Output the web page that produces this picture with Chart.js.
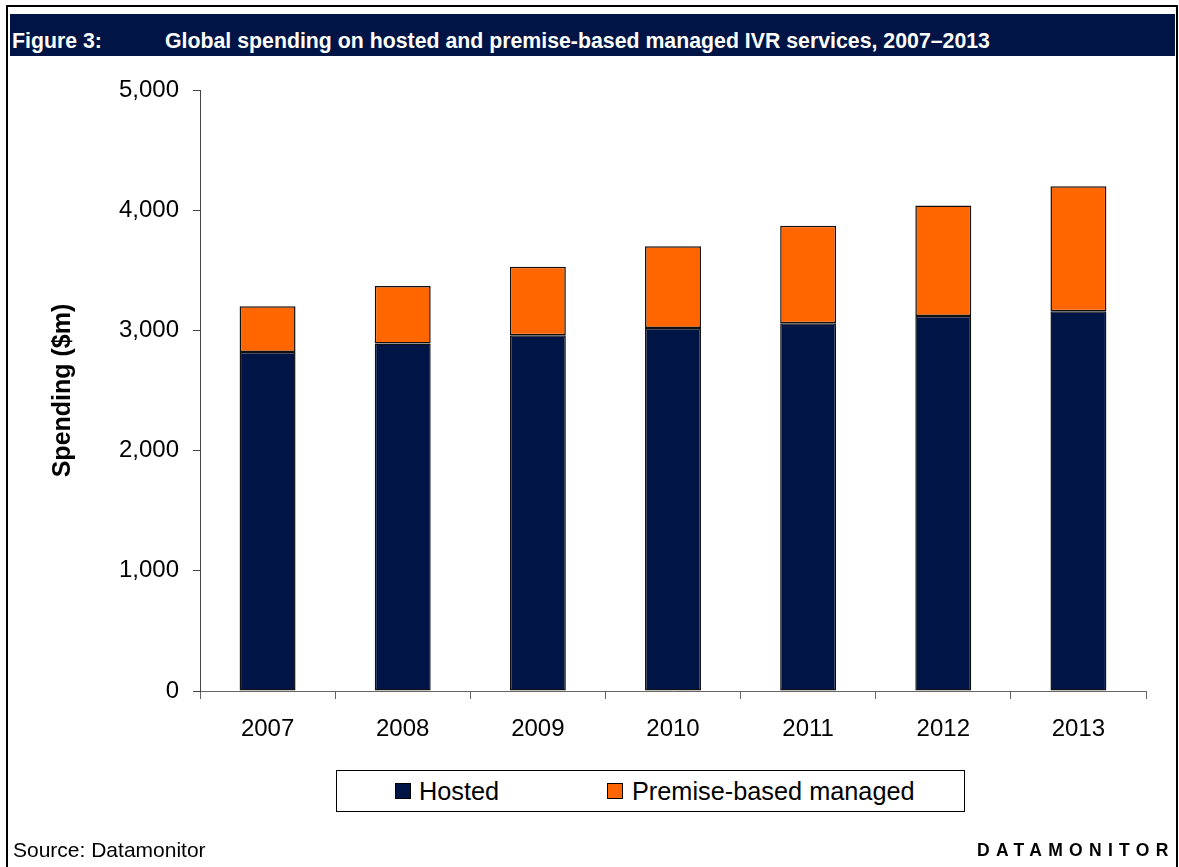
<!DOCTYPE html>
<html>
<head>
<meta charset="utf-8">
<script src="https://cdn.jsdelivr.net/npm/chart.js@4.4.1/dist/chart.umd.min.js"></script>
<style>
  html, body { margin: 0; padding: 0; background: #fff; }
  body { width: 1179px; height: 867px; position: relative; overflow: hidden; font-family: "Liberation Sans", Arial, sans-serif; }
  #frame { position: absolute; left: 6px; top: 5px; width: 1172px; height: 1000px; box-sizing: border-box; border: 2px solid #000; }
  #band { position: absolute; left: 10px; top: 14px; width: 1165px; height: 42px; background: #001545; }
  .hdr { position: absolute; top: 31px; font-weight: bold; font-size: 21.3px; line-height: 21px; color: #fff; white-space: nowrap; }
  #chartWrap { position: absolute; left: 0; top: 0; width: 1179px; height: 867px; }
  #legendBox { position: absolute; left: 336px; top: 770px; width: 629px; height: 42px; box-sizing: border-box; border: 1px solid #000; background: #fff; }
  .sw { position: absolute; top: 783px; width: 16px; height: 16px; box-sizing: border-box; border: 1px solid #000; }
  .lt { position: absolute; top: 779px; font-size: 25.3px; line-height: 25px; color: #000; white-space: nowrap; }
  #src { position: absolute; left: 13px; top: 839px; font-size: 21px; line-height: 21px; color: #000; white-space: nowrap; }
  #brand { position: absolute; left: 977px; top: 842px; font-size: 17.5px; line-height: 17px; font-weight: bold; letter-spacing: 6.3px; color: #000; white-space: nowrap; }
</style>
</head>
<body>
<div id="frame"></div>
<div id="band"></div>
<div class="hdr" style="left:12px">Figure 3:</div>
<div class="hdr" style="left:165px">Global spending on hosted and premise-based managed IVR services, 2007–2013</div>
<div id="chartWrap"><canvas id="c" width="1179" height="867"></canvas></div>
<div id="legendBox"></div>
<div id="legendItems"></div>
<div id="src">Source: Datamonitor</div>
<div id="brand">DATAMONITOR</div>
<script>
const years = ['2007', '2008', '2009', '2010', '2011', '2012', '2013'];
const hosted = [2820, 2890, 2960, 3020, 3060, 3120, 3160];
const premiseManaged = [380, 480, 570, 680, 810, 920, 1040];
const seriesNames = ['Hosted', 'Premise-based managed'];
const seriesColors = ['#001545', '#FF6600'];
const yTickValues = [0, 1000, 2000, 3000, 4000, 5000];
const yTickLabels = ['0', '1,000', '2,000', '3,000', '4,000', '5,000'];
const yAxisTitle = 'Spending ($m)';

const FONT = '"Liberation Sans", Arial, sans-serif';

// HTML legend built from series names/colours
const legendItems = document.getElementById('legendItems');
const legendPos = [{sw: 395, tx: 419}, {sw: 607, tx: 632}];
seriesNames.forEach((name, i) => {
  const sw = document.createElement('div');
  sw.className = 'sw';
  sw.style.left = legendPos[i].sw + 'px';
  sw.style.background = seriesColors[i];
  legendItems.appendChild(sw);
  const t = document.createElement('div');
  t.className = 'lt';
  t.style.left = legendPos[i].tx + 'px';
  t.textContent = name;
  legendItems.appendChild(t);
});

new Chart(document.getElementById('c'), {
  type: 'bar',
  data: {
    labels: years,
    datasets: [
      { label: seriesNames[0], data: hosted, backgroundColor: seriesColors[0], borderColor: '#111', borderWidth: 1.5, borderSkipped: false, barPercentage: 0.414, categoryPercentage: 1 },
      { label: seriesNames[1], data: premiseManaged, backgroundColor: seriesColors[1], borderColor: '#111', borderWidth: 1.5, borderSkipped: false, barPercentage: 0.414, categoryPercentage: 1 }
    ]
  },
  options: {
    responsive: false,
    animation: false,
    devicePixelRatio: 1,
    layout: { padding: { left: 0, right: 33, top: 90, bottom: 116 } },
    plugins: { legend: { display: false }, tooltip: { enabled: false } },
    scales: {
      x: {
        stacked: true,
        grid: { display: true, drawOnChartArea: false, drawTicks: true, tickLength: 8, offset: true, color: '#666', lineWidth: 1 },
        border: { display: true, color: '#666', width: 1 },
        ticks: { color: '#000', font: { family: FONT, size: 24 }, padding: 16, maxRotation: 0 },
        afterFit: (s) => { s.height = 60; }
      },
      y: {
        stacked: true,
        min: 0,
        max: 5000,
        grid: { display: true, drawOnChartArea: false, drawTicks: true, tickLength: 7, color: '#444', lineWidth: 1 },
        border: { display: true, color: '#444', width: 1 },
        ticks: {
          stepSize: 1000,
          color: '#000',
          padding: 14,
          font: { family: FONT, size: 24 },
          callback: (v) => { const i = yTickValues.indexOf(v); return i >= 0 ? yTickLabels[i] : ''; }
        },
        title: { display: true, text: yAxisTitle, color: '#000', font: { family: FONT, size: 25, weight: 'bold' }, padding: { top: 48, bottom: 0 } },
        afterFit: (s) => { s.width = 200; }
      }
    }
  }
});
</script>
</body>
</html>
